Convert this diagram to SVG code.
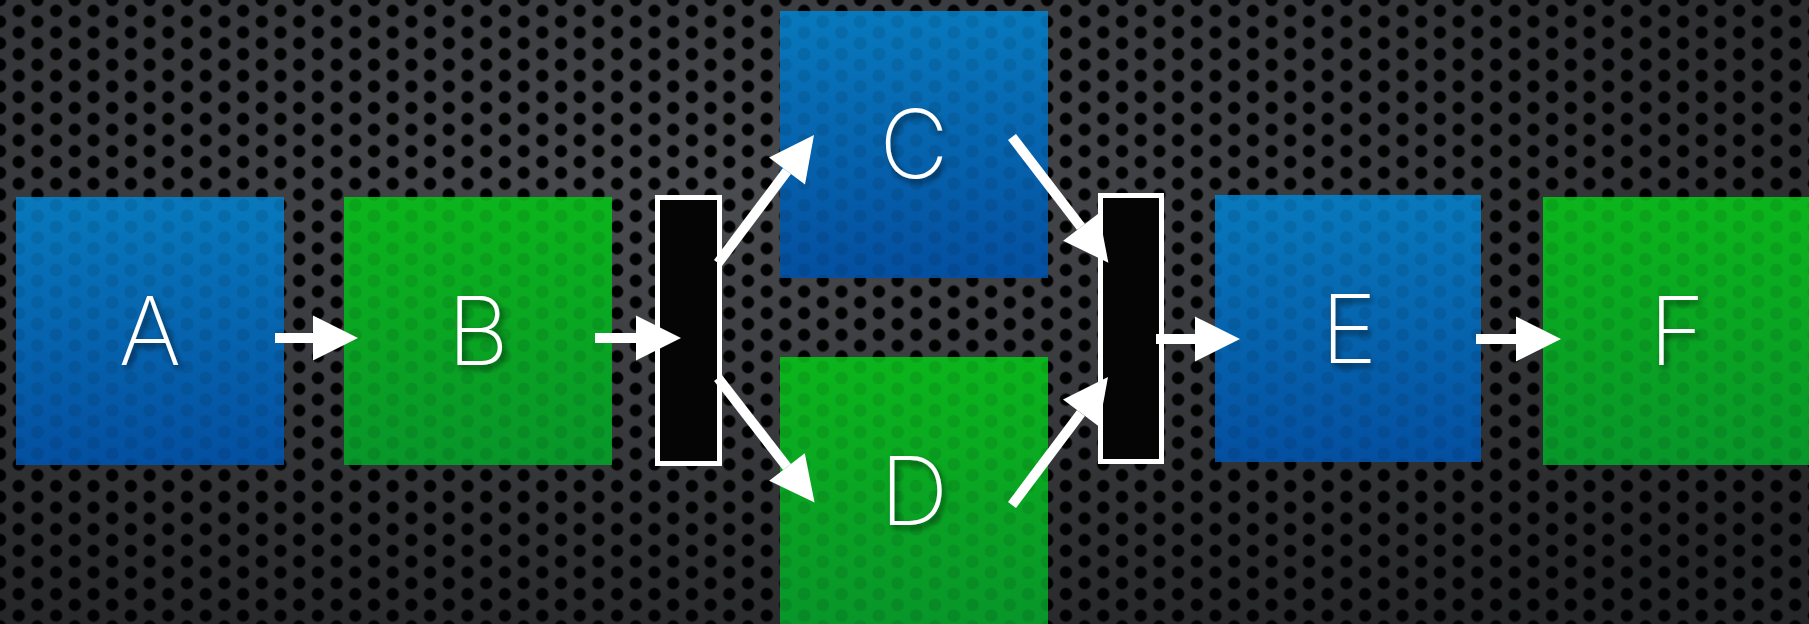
<svg xmlns="http://www.w3.org/2000/svg" width="1809" height="624" viewBox="0 0 1809 624">
<style>
.lbl{font-family:"Inter","Liberation Sans",sans-serif;font-weight:250;font-size:95px;fill:#ffffff;text-anchor:middle;filter:url(#ts)}
.bar{fill:#050505;stroke:#ffffff;stroke-width:5}
.con{stroke:#ffffff;stroke-width:10;fill:none;marker-end:url(#ah)}
.tex{fill:url(#holesFaint);opacity:0.09}
</style>
<defs>
<radialGradient id="hole">
<stop offset="0" stop-color="#000"/>
<stop offset="0.75" stop-color="#020203"/>
<stop offset="1" stop-color="#000" stop-opacity="0"/>
</radialGradient>
<pattern id="holes" width="37.4" height="21.6" patternUnits="userSpaceOnUse">
<rect width="37.4" height="21.6" fill="#4a4b4f"/>
<circle cx="0" cy="0" r="7" fill="url(#hole)"/>
<circle cx="37.4" cy="0" r="7" fill="url(#hole)"/>
<circle cx="18.7" cy="10.8" r="7" fill="url(#hole)"/>
<circle cx="0" cy="21.6" r="7" fill="url(#hole)"/>
<circle cx="37.4" cy="21.6" r="7" fill="url(#hole)"/>
</pattern>
<pattern id="holesFaint" width="37.4" height="21.6" patternUnits="userSpaceOnUse">
<circle cx="0" cy="0" r="6.5" fill="#000"/>
<circle cx="37.4" cy="0" r="6.5" fill="#000"/>
<circle cx="18.7" cy="10.8" r="6.5" fill="#000"/>
<circle cx="0" cy="21.6" r="6.5" fill="#000"/>
<circle cx="37.4" cy="21.6" r="6.5" fill="#000"/>
</pattern>
<radialGradient id="shade" cx="0.4" cy="0.3" r="0.8">
<stop offset="0" stop-color="#000" stop-opacity="0"/>
<stop offset="1" stop-color="#000" stop-opacity="0.5"/>
</radialGradient>
<linearGradient id="blue" x1="0" y1="0" x2="0" y2="1">
<stop offset="0" stop-color="#0879bc"/>
<stop offset="1" stop-color="#044fa0"/>
</linearGradient>
<linearGradient id="green" x1="0" y1="0" x2="0" y2="1">
<stop offset="0" stop-color="#0bb51c"/>
<stop offset="1" stop-color="#08962a"/>
</linearGradient>
<filter id="ts" x="-30%" y="-30%" width="160%" height="160%">
<feDropShadow dx="3" dy="4" stdDeviation="3" flood-color="#000" flood-opacity="0.55"/>
</filter>
<marker id="ah" markerUnits="strokeWidth" markerWidth="5" markerHeight="5" refX="0" refY="2.25" orient="auto" overflow="visible">
<path d="M0,0 L4.5,2.25 L0,4.5 Z" fill="#ffffff"/>
</marker>
</defs>
<rect width="1809" height="624" fill="url(#holes)"/>
<rect width="1809" height="624" fill="url(#shade)"/>
<g id="node-A">
<rect x="16" y="197" width="268" height="268" fill="url(#blue)"/>
<rect class="tex" x="16" y="197" width="268" height="268"/>
<text class="lbl" x="150" y="365">A</text>
</g>
<g id="node-B">
<rect x="344" y="197" width="268" height="268" fill="url(#green)"/>
<rect class="tex" x="344" y="197" width="268" height="268"/>
<text class="lbl" x="478" y="365">B</text>
</g>
<g id="node-fork">
<rect class="bar" x="657.5" y="197.5" width="62" height="266"/>
</g>
<g id="node-C">
<rect x="780" y="11" width="268" height="267" fill="url(#blue)"/>
<rect class="tex" x="780" y="11" width="268" height="267"/>
<text class="lbl" x="914" y="178">C</text>
</g>
<g id="node-D">
<rect x="780" y="357" width="268" height="267" fill="url(#green)"/>
<rect class="tex" x="780" y="357" width="268" height="267"/>
<text class="lbl" x="914" y="525">D</text>
</g>
<g id="node-join">
<rect class="bar" x="1100.5" y="195.5" width="61" height="266"/>
</g>
<g id="node-E">
<rect x="1215" y="195" width="266" height="267" fill="url(#blue)"/>
<rect class="tex" x="1215" y="195" width="266" height="267"/>
<text class="lbl" x="1349" y="363">E</text>
</g>
<g id="node-F">
<rect x="1543" y="197" width="266" height="268" fill="url(#green)"/>
<rect class="tex" x="1543" y="197" width="266" height="268"/>
<text class="lbl" x="1677" y="365">F</text>
</g>
<g id="connectors">
<path class="con" d="M275,338 L313,338"/>
<path class="con" d="M595,338 L636,338"/>
<path class="con" d="M718,263 L787,171"/>
<path class="con" d="M718,378 L787,467"/>
<path class="con" d="M1012,137 L1081,227"/>
<path class="con" d="M1012,505 L1081,413"/>
<path class="con" d="M1156,339 L1195,339"/>
<path class="con" d="M1476,339 L1516,339"/>
</g>
</svg>
